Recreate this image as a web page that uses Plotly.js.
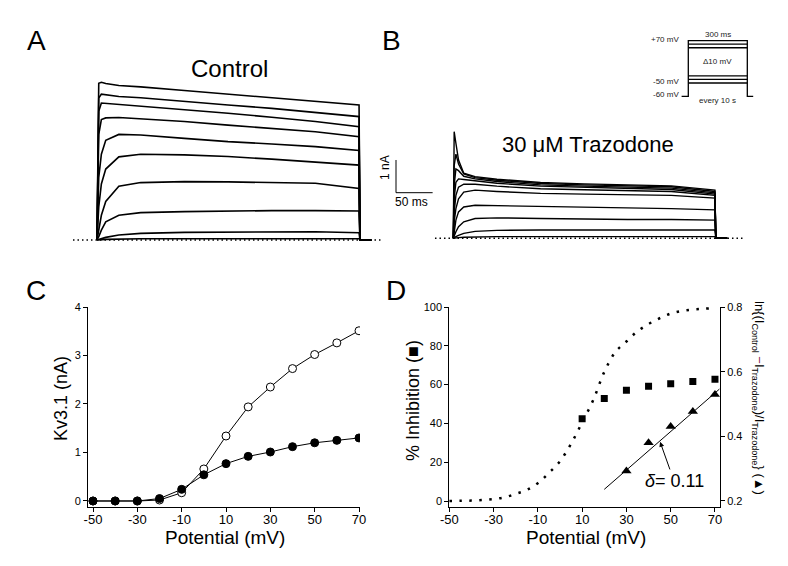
<!DOCTYPE html>
<html>
<head>
<meta charset="utf-8">
<script src="https://cdn.plot.ly/plotly-3.0.1.min.js"></script>
<style>html,body{margin:0;padding:0;background:#fff;}#chart{width:788px;height:566px;}</style>
</head>
<body>
<div id="chart"></div>
<script>
// ---------------- Panel C: I-V data ----------------
const potentials = [-50, -40, -30, -20, -10, 0, 10, 20, 30, 40, 50, 60, 70];
const controlIV = [0, 0, 0, 0.02, 0.17, 0.66, 1.34, 1.94, 2.35, 2.73, 3.02, 3.26, 3.51];
const trazodoneIV = [0, 0, 0, 0.05, 0.24, 0.54, 0.77, 0.92, 1.01, 1.12, 1.20, 1.25, 1.30];
const potTickVals = [-50, -30, -10, 10, 30, 50, 70];
const potTickText = ['-50', '-30', '-10', '10', '30', '50', '70'];

// ---------------- Panel D ----------------
const inhibPotentials = [10, 20, 30, 40, 50, 60, 70];
const inhibition = [42.4, 52.8, 57.1, 59.2, 60.4, 61.6, 62.8];
const lnPotentials = [30, 40, 50, 60, 70];
const lnRatio = [0.293, 0.380, 0.430, 0.477, 0.529];
const fitPotentials = [20, 72];
const fitLn = [0.236, 0.546];
const boltzPotentials = [-50, -45, -40, -35, -30, -25, -20, -15, -10, -5, 0, 5, 10, 15, 20, 25, 30, 35, 40, 45, 50, 55, 60, 65, 70];
const boltzInhibition = [0, 0.1, 0.2, 0.5, 1.0, 1.9, 3.7, 5.7, 9.2, 14.5, 20.5, 29.5, 40.5, 52, 66.5, 76.8, 82.2, 87.5, 91.2, 94.2, 96.6, 98, 98.7, 99.1, 99.5];

// ---------------- Panel A: control current traces (nA vs ms) ----------------
const timeA = [0, 2, 5, 10, 25, 50, 100, 150, 200, 250, 300, 301, 314];
const ctrl70 = [0, 4.75, 4.78, 4.74, 4.68, 4.64, 4.53, 4.42, 4.32, 4.22, 4.09, 0, 0];
const ctrl60 = [0, 4.30, 4.42, 4.40, 4.35, 4.31, 4.19, 4.09, 3.99, 3.86, 3.74, 0, 0];
const ctrl50 = [0, 3.90, 4.15, 4.14, 4.11, 4.06, 3.96, 3.84, 3.72, 3.59, 3.43, 0, 0];
const ctrl40 = [0, 3.20, 3.65, 3.70, 3.71, 3.67, 3.59, 3.48, 3.38, 3.28, 3.13, 0, 0];
const ctrl30 = [0, 1.90, 2.60, 3.02, 3.20, 3.18, 3.08, 2.98, 2.91, 2.83, 2.71, 0, 0];
const ctrl20 = [0, 1.00, 1.70, 2.15, 2.52, 2.60, 2.58, 2.53, 2.45, 2.37, 2.27, 0, 0];
const ctrl10 = [0, 0.35, 0.75, 1.17, 1.63, 1.74, 1.77, 1.76, 1.74, 1.72, 1.56, 0, 0];
const ctrl0 = [0, 0.10, 0.30, 0.55, 0.75, 0.83, 0.86, 0.88, 0.89, 0.89, 0.88, 0, 0];
const ctrlM10 = [0, 0.02, 0.04, 0.08, 0.15, 0.20, 0.23, 0.24, 0.26, 0.25, 0.22, 0, 0];
const ctrlM20 = [0, 0.01, 0.01, 0.02, 0.03, 0.04, 0.04, 0.04, 0.05, 0.04, 0.04, 0, 0];
const controlTraces = [ctrlM20, ctrlM10, ctrl0, ctrl10, ctrl20, ctrl30, ctrl40, ctrl50, ctrl60, ctrl70];

// ---------------- Panel B: 30 uM trazodone traces ----------------
const timeB = [0, 1, 3, 6, 12, 25, 50, 100, 150, 200, 250, 300, 301, 314];
const traz70 = [0, 3.23, 2.88, 2.37, 1.97, 1.87, 1.79, 1.69, 1.65, 1.62, 1.59, 1.46, 0, 0];
const traz60 = [0, 2.20, 2.55, 2.25, 1.95, 1.84, 1.76, 1.66, 1.62, 1.59, 1.56, 1.42, 0, 0];
const traz50 = [0, 1.60, 2.10, 2.05, 1.88, 1.80, 1.72, 1.62, 1.58, 1.55, 1.52, 1.38, 0, 0];
const traz40 = [0, 1.20, 1.70, 1.80, 1.78, 1.74, 1.67, 1.58, 1.54, 1.51, 1.48, 1.34, 0, 0];
const traz30 = [0, 0.80, 1.30, 1.55, 1.64, 1.64, 1.58, 1.50, 1.47, 1.44, 1.42, 1.30, 0, 0];
const traz20 = [0, 0.50, 0.90, 1.20, 1.40, 1.46, 1.42, 1.36, 1.34, 1.32, 1.30, 1.22, 0, 0];
const traz10 = [0, 0.25, 0.55, 0.80, 0.95, 1.00, 0.99, 0.96, 0.94, 0.92, 0.90, 0.86, 0, 0];
const traz0 = [0, 0.08, 0.20, 0.35, 0.50, 0.60, 0.62, 0.60, 0.58, 0.57, 0.57, 0.55, 0, 0];
const trazM10 = [0, 0.02, 0.05, 0.09, 0.15, 0.21, 0.24, 0.25, 0.25, 0.25, 0.25, 0.25, 0, 0];
const trazM20 = [0, 0, 0.01, 0.02, 0.03, 0.04, 0.05, 0.05, 0.05, 0.05, 0.05, 0.05, 0, 0];
const trazodoneTraces = [trazM20, trazM10, traz0, traz10, traz20, traz30, traz40, traz50, traz60, traz70];

// baselines (ms) and scale bar (ms, nA)
const baselineA = [-27.5, 327.5];
const baselineB = [-21, 332];
const zeroCurrent = [0, 0];
const scaleBarT = [-65.7, -65.7, -23.7];
const scaleBarI = [2.373, 1.382, 1.382];

// ---------------- Inset: voltage protocol (ms, mV; holding drawn at schematic level) ----------------
const protocolOutlineT = [-34, 0, 0, 300, 300, 330];
const protocolOutlineV = [-88, -88, 70, 70, -88, -88];
const protocolStepLevels = [60, 50, -30, -40, -50];
const protocolStepT = [0, 300];

const K = '#000';
const traces = [];

// Panel A
traces.push({x: baselineA, y: zeroCurrent, xaxis: 'x3', yaxis: 'y4', mode: 'lines',
  line: {color: K, width: 1.5, dash: '1.5px,3px'}, hoverinfo: 'skip'});
controlTraces.forEach(v => traces.push({x: timeA, y: v, xaxis: 'x3', yaxis: 'y4', mode: 'lines',
  line: {color: K, width: 1.6}, hoverinfo: 'skip'}));
// Panel B
traces.push({x: baselineB, y: zeroCurrent, xaxis: 'x4', yaxis: 'y5', mode: 'lines',
  line: {color: K, width: 1.5, dash: '1.5px,3px'}, hoverinfo: 'skip'});
trazodoneTraces.forEach(v => traces.push({x: timeB, y: v, xaxis: 'x4', yaxis: 'y5', mode: 'lines',
  line: {color: K, width: 1.4}, hoverinfo: 'skip'}));
traces.push({x: scaleBarT, y: scaleBarI, xaxis: 'x4', yaxis: 'y5', mode: 'lines',
  line: {color: K, width: 1}, hoverinfo: 'skip'});
// Inset
traces.push({x: protocolOutlineT, y: protocolOutlineV, xaxis: 'x5', yaxis: 'y6', mode: 'lines',
  line: {color: K, width: 1.3}, hoverinfo: 'skip'});
protocolStepLevels.forEach(lv => traces.push({x: protocolStepT, y: [lv, lv], xaxis: 'x5', yaxis: 'y6', mode: 'lines',
  line: {color: K, width: 1.3}, hoverinfo: 'skip'}));

// Panel C
traces.push({x: potentials, y: controlIV, xaxis: 'x', yaxis: 'y', mode: 'lines+markers',
  line: {color: K, width: 1}, marker: {symbol: 'circle', size: 8, color: '#fff', line: {color: K, width: 1}}});
traces.push({x: potentials, y: trazodoneIV, xaxis: 'x', yaxis: 'y', mode: 'lines+markers',
  line: {color: K, width: 1}, marker: {symbol: 'circle', size: 8, color: K, line: {color: K, width: 1}}});

// Panel D
traces.push({x: boltzPotentials, y: boltzInhibition, xaxis: 'x2', yaxis: 'y2', mode: 'lines',
  line: {color: K, width: 2.5, dash: '2.5px,7.5px', shape: 'spline'}});
traces.push({x: inhibPotentials, y: inhibition, xaxis: 'x2', yaxis: 'y2', mode: 'markers',
  marker: {symbol: 'square', size: 7, color: K}});
traces.push({x: fitPotentials, y: fitLn, xaxis: 'x2', yaxis: 'y3', mode: 'lines',
  line: {color: K, width: 1}});
traces.push({x: lnPotentials, y: lnRatio, xaxis: 'x2', yaxis: 'y3', mode: 'markers',
  marker: {symbol: 'triangle-up', size: 9, color: K}});

const W = 788, H = 566;
const px = v => v / W;
const py = v => 1 - v / H;

const baseAxis = {
  showline: true, linecolor: K, linewidth: 1, ticks: 'outside', ticklen: 4, tickwidth: 1, tickcolor: K,
  showgrid: false, zeroline: false, fixedrange: true
};
const hidden = {visible: false, fixedrange: true, showgrid: false, zeroline: false};
const xTickFont = {family: 'Liberation Sans Narrow, Liberation Sans, Arial', size: 13, color: K};
const yTickFont = {family: 'Liberation Sans, Arial', size: 11, color: K};

function ann(text, x, y, size, opts) {
  return Object.assign({text: text, x: px(x), y: py(y), xref: 'paper', yref: 'paper',
    xanchor: 'center', yanchor: 'middle', showarrow: false,
    font: {family: 'Liberation Sans, Arial', size: size, color: K}}, opts || {});
}
const inFont = {family: 'Liberation Sans, Arial', size: 8, color: '#222'};
function inAnn(text, t, v, xanchor) {
  return {text: text, x: t, y: v, xref: 'x5', yref: 'y6', xanchor: xanchor || 'center', yanchor: 'middle',
    showarrow: false, font: inFont};
}

const layout = {
  width: W, height: H, margin: {l: 0, r: 0, t: 0, b: 0},
  paper_bgcolor: '#fff', plot_bgcolor: 'rgba(0,0,0,0)', showlegend: false,
  font: {family: 'Liberation Sans, Arial', color: K},
  // Panel C
  xaxis: Object.assign({}, baseAxis, {domain: [px(88), px(360)], range: [-52.26, 70.45], anchor: 'y',
    tickmode: 'array', tickvals: potTickVals, ticktext: potTickText, tickfont: xTickFont, ticklabelstandoff: -4}),
  yaxis: Object.assign({}, baseAxis, {domain: [py(507), py(307)], range: [-0.124, 4], anchor: 'x',
    tickmode: 'array', tickvals: [0, 1, 2, 3, 4], tickfont: yTickFont}),
  // Panel D
  xaxis2: Object.assign({}, baseAxis, {domain: [px(449.3), px(720)], range: [-50, 72.27], anchor: 'y2',
    tickmode: 'array', tickvals: potTickVals, ticktext: potTickText, tickfont: xTickFont, ticklabelstandoff: -4}),
  yaxis2: Object.assign({}, baseAxis, {domain: [py(507), py(307)], range: [-3.09, 100], anchor: 'x2',
    tickmode: 'array', tickvals: [0, 20, 40, 60, 80, 100], tickfont: yTickFont}),
  yaxis3: Object.assign({}, baseAxis, {overlaying: 'y2', side: 'right', anchor: 'x2', range: [0.1814, 0.8],
    tickmode: 'array', tickvals: [0.2, 0.4, 0.6, 0.8], ticktext: ['0.2', '0.4', '0.6', '0.8'], tickfont: yTickFont}),
  // Panel A traces
  xaxis3: Object.assign({}, hidden, {domain: [px(73), px(385)], range: [-27.48, 329.7], anchor: 'y4'}),
  yaxis4: Object.assign({}, hidden, {domain: [py(250), py(60)], range: [-0.303, 5.4545], anchor: 'x3'}),
  // Panel B traces
  xaxis4: Object.assign({}, hidden, {domain: [px(380), px(750)], range: [-84.04, 340.2], anchor: 'y5'}),
  yaxis5: Object.assign({}, hidden, {domain: [py(250), py(60)], range: [-0.3545, 5.403], anchor: 'x4'}),
  // Inset
  xaxis5: Object.assign({}, hidden, {domain: [px(670), px(760)], range: [-93.0, 364.5], anchor: 'y6'}),
  yaxis6: Object.assign({}, hidden, {domain: [py(110), py(30)], range: [-126.6, 100.35], anchor: 'x5'}),
  annotations: [
    ann('A', 36, 40, 28), ann('B', 391, 40, 28), ann('C', 36, 290, 28), ann('D', 396, 290, 28),
    ann('Control', 229, 69, 24),
    ann('30 \u03bcM Trazodone', 588, 144, 22),
    ann('Kv3.1 (nA)', 61, 399, 18, {textangle: -90}),
    ann('Potential (mV)', 225, 537, 19),
    ann('Potential (mV)', 586, 537, 19),
    ann('% Inhibition (\u25a0)', 413, 401, 18, {textangle: -90}),
    ann('ln{(I<sub>Control</sub> <span style="color:#8b1c4c">\u2212</span>I<sub>Trazodone</sub>)/I<sub>Trazodone</sub>} (\u25b2)',
      759, 398, 13, {textangle: 90}),
    ann('1 nA', 385, 168, 12, {textangle: -90, font: {family: 'Liberation Sans Narrow, Liberation Sans, Arial', size: 12, color: K}}),
    ann('50 ms', 411, 202, 12, {font: {family: 'Liberation Sans Narrow, Liberation Sans, Arial', size: 12, color: K}}),
    {text: '<i>\u03b4</i>= 0.11', x: 45.2, y: 0.383, xref: 'x2', yref: 'y3', ax: 51.5, ay: 0.262, axref: 'x2', ayref: 'y3',
      showarrow: true, arrowhead: 2, arrowsize: 1, arrowwidth: 1, arrowcolor: K, standoff: 0,
      font: {family: 'Liberation Sans, Arial', size: 18, color: K}},
    inAnn('+70 mV', -37, 72.8, 'right'),
    inAnn('-50 mV', -37, -45.2, 'right'),
    inAnn('-60 mV', -37, -83.2, 'right'),
    inAnn('300 ms', 150, 89),
    inAnn('\u039410 mV', 150, 9.6),
    inAnn('every 10 s', 150, -100.2)
  ]
};

Plotly.newPlot('chart', traces, layout, {staticPlot: true, displayModeBar: false});
</script>
</body>
</html>
